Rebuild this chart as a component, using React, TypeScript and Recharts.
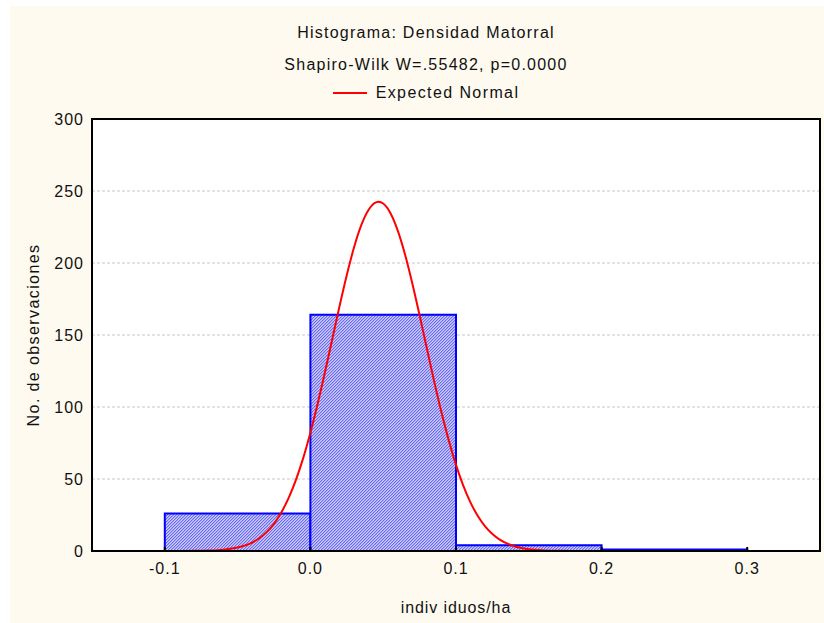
import { ComposedChart, Line, XAxis, YAxis, CartesianGrid, ReferenceArea, Legend } from 'recharts';

// histogram bins (individuos/ha) and counts
const binStarts = [-0.1, 0.0, 0.1, 0.2];
const binEnds = [0.0, 0.1, 0.2, 0.3];
const binCounts = [26, 164, 4, 1];

// expected normal curve
const normalX = [
  -0.15, -0.1, -0.09, -0.08, -0.07, -0.06, -0.05, -0.04, -0.03, -0.025, -0.02, -0.015, -0.01, -0.005,
  0, 0.005, 0.01, 0.015, 0.02, 0.025, 0.03, 0.035, 0.04, 0.045, 0.0468, 0.05, 0.055, 0.06, 0.065, 0.07,
  0.075, 0.08, 0.085, 0.09, 0.095, 0.1, 0.105, 0.11, 0.115, 0.12, 0.125, 0.13, 0.14, 0.15, 0.16,
  0.17, 0.18, 0.2, 0.25, 0.3, 0.35,
];
const normalY = [
  0, 0, 0, 0.1, 0.3, 0.9, 2.4, 5.8, 13.1, 18.9, 26.7, 36.7, 49.2, 64.3,
  82.1, 102.2, 124.1, 147.1, 170, 191.7, 210.9, 226.4, 237, 242.1, 242.5, 241.3, 234.6, 222.5, 205.9, 185.8,
  163.7, 140.6, 117.8, 96.3, 76.9, 59.8, 45.4, 33.6, 24.3, 17.1, 11.8, 7.9, 3.3, 1.25, 0.43,
  0.13, 0.04, 0, 0, 0, 0,
];

const xTicks = [-0.1, 0.0, 0.1, 0.2, 0.3];
const yTicks = [0, 50, 100, 150, 200, 250, 300];

const FONT = '"Liberation Sans", Arial, sans-serif';
const BG = '#FEFAF0';
const INK = '#111';

const curveData = normalX.map((x, i) => ({ x, y: normalY[i] }));

// 3x3 hatch tile, low contrast "/" so it reads as light lavender
const hatchCells = [
  { x: 0, y: 2, c: '#6a6af0' }, { x: 1, y: 1, c: '#6a6af0' }, { x: 2, y: 0, c: '#6a6af0' },
  { x: 0, y: 0, c: '#a8a8f5' }, { x: 1, y: 2, c: '#a8a8f5' }, { x: 2, y: 1, c: '#a8a8f5' },
  { x: 1, y: 0, c: '#cacafb' }, { x: 0, y: 1, c: '#cacafb' }, { x: 2, y: 2, c: '#cacafb' },
];

const YLabel = ({ viewBox }: any) => {
  const cx = viewBox.x + 23;
  const cy = viewBox.y + viewBox.height / 2;
  return (
    <text
      x={cx} y={cy}
      transform={`rotate(-90, ${cx}, ${cy})`}
      textAnchor="middle" dominantBaseline="central"
      fontSize={16} fontFamily={FONT} fill={INK} letterSpacing={1.4}
    >
      No. de observaciones
    </text>
  );
};

const LegendContent = ({ payload }: any) => (
  <div style={{ display: 'flex', justifyContent: 'center', alignItems: 'center', fontFamily: FONT, fontSize: 16, color: INK, letterSpacing: 1.4 }}>
    {(payload || []).map((p: any) => (
      <div key={p.value} style={{ display: 'flex', alignItems: 'center' }}>
        <span style={{ display: 'inline-block', width: 34, height: 2, background: '#FF0000', marginRight: 9 }} />
        <span>{p.value}</span>
      </div>
    ))}
  </div>
);

const titleStyle = {
  position: 'absolute' as const, left: 0, width: 832, textAlign: 'center' as const,
  fontFamily: FONT, fontSize: 16, color: INK, lineHeight: '18px', letterSpacing: 1.25,
};

export default function App() {
  return (
    <div style={{ position: 'absolute', left: 0, top: 0, width: 824, height: 623, background: '#fff' }}>
      <div style={{ position: 'absolute', left: 10, top: 6, width: 814, height: 617, background: BG }}>
        <div style={{ ...titleStyle, top: 18 }}>Histograma: Densidad Matorral</div>
        <div style={{ ...titleStyle, top: 50 }}>Shapiro-Wilk W=.55482, p=0.0000</div>
        <ComposedChart
          width={814} height={617} data={curveData}
          margin={{ top: 113, right: 4, left: 0, bottom: 0 }}
        >
          <defs>
            <pattern id="hatch" patternUnits="userSpaceOnUse" width="3" height="3">
              {hatchCells.map((h, i) => (
                <rect key={i} x={h.x} y={h.y} width="1" height="1" fill={h.c} shapeRendering="crispEdges" />
              ))}
            </pattern>
          </defs>
          <CartesianGrid vertical={false} fill="#ffffff" stroke="#c8c8c8" strokeDasharray="3 2" />
          <XAxis
            dataKey="x" type="number" domain={[-0.15, 0.35]} ticks={xTicks}
            allowDataOverflow
            tickFormatter={(v: number) => v.toFixed(1)}
            height={72}
            axisLine={{ stroke: '#000', strokeWidth: 2 }}
            tickLine={{ stroke: '#000', strokeWidth: 2 }}
            tickSize={-4} tickMargin={16}
            tick={{ fill: INK, fontSize: 16, fontFamily: FONT, letterSpacing: 1 }}
            label={{ value: 'indiv iduos/ha', position: 'insideBottom', offset: 10, fill: INK, fontSize: 16, fontFamily: FONT, letterSpacing: 0.9 }}
          />
          <YAxis
            type="number" domain={[0, 300]} ticks={yTicks}
            width={82}
            axisLine={{ stroke: '#000', strokeWidth: 2 }}
            tickLine={false}
            tickSize={0} tickMargin={8}
            tick={{ fill: INK, fontSize: 16, fontFamily: FONT, letterSpacing: 1 }}
            label={<YLabel />}
          />
          {binStarts.map((s, i) => (
            <ReferenceArea
              key={i}
              x1={s} x2={binEnds[i]} y1={0} y2={binCounts[i]}
              fill="url(#hatch)" fillOpacity={1}
              stroke="#0000FF" strokeWidth={2} strokeOpacity={1}
            />
          ))}
          <ReferenceArea
            x1={-0.15} x2={0.35} y1={0} y2={300}
            fill="none" stroke="#000" strokeWidth={2} strokeOpacity={1}
          />
          <Legend
            verticalAlign="middle" align="center" layout="horizontal"
            wrapperStyle={{ top: 78, left: 0, width: 832 }}
            content={<LegendContent />}
          />
          <Line
            dataKey="y" name="Expected Normal" type="monotone"
            stroke="#FF0000" strokeWidth={2} dot={false}
            activeDot={false} isAnimationActive={false}
          />
        </ComposedChart>
      </div>
    </div>
  );
}
